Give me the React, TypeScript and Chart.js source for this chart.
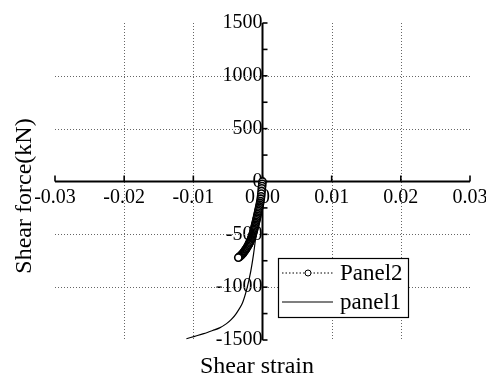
import React, { useEffect, useRef } from "react";
import { Chart, registerables } from "chart.js";

Chart.register(...registerables);

const panel2Strain = [0, -0.00003, -0.00006, -0.0001, -0.00013, -0.00016, -0.0002, -0.00025, -0.0003, -0.00035, -0.0004, -0.00045, -0.0005, -0.00055, -0.0006, -0.00065, -0.0007, -0.00075, -0.0008, -0.00085, -0.0009, -0.00095, -0.001, -0.00105, -0.0011, -0.00115, -0.0012, -0.00125, -0.0013, -0.00135, -0.0014, -0.00145, -0.0015, -0.00155, -0.0016, -0.00165, -0.0017, -0.00175, -0.0018, -0.00185, -0.0019, -0.00195, -0.002, -0.0021, -0.0022, -0.0023, -0.0024, -0.0025, -0.0026, -0.0027, -0.0028, -0.0029, -0.003, -0.0031, -0.0032, -0.0033, -0.0034, -0.0035];
const panel2Force = [0, -22, -44, -65, -90, -115, -140, -163, -185, -203, -220, -236, -250, -265, -280, -295, -310, -325, -340, -354, -368, -382, -395, -409, -422, -435, -448, -461, -474, -486, -498, -508, -518, -527, -536, -545, -553, -561, -568, -576, -583, -590, -596, -608, -619, -630, -640, -650, -659, -668, -677, -685, -692, -699, -705, -711, -716, -720];

const panel1Strain = [0, -0.0002, -0.0004, -0.0007, -0.001, -0.0013, -0.0017, -0.0022, -0.0029, -0.0038, -0.0045, -0.0052, -0.0062, -0.0072, -0.0085, -0.0098, -0.011];
const panel1Force = [0, -100, -250, -400, -540, -690, -850, -1000, -1150, -1250, -1305, -1345, -1385, -1410, -1440, -1465, -1488];

const xTicks = [-0.03, -0.02, -0.01, 0, 0.01, 0.02, 0.03];
const xGridValues = [-0.02, -0.01, 0.01, 0.02];
const yTicks = [-1500, -1250, -1000, -750, -500, -250, 0, 250, 500, 750, 1000, 1250, 1500];
const yGridValues = [-1000, -500, 500, 1000];
const legendLabels = ["Panel2", "panel1"];

const FONT = "'Liberation Serif', 'Times New Roman', serif";

export default function App() {
  const ref = useRef<HTMLCanvasElement | null>(null);

  useEffect(() => {
    document.body.style.margin = "0";
    const canvas = ref.current;
    if (!canvas) return;

    const axesPlugin = {
      id: "crossAxes",
      beforeDatasetsDraw(chart: any) {
        const ctx = chart.ctx;
        const xs = chart.scales.x;
        const ys = chart.scales.y;
        const x0 = xs.getPixelForValue(0);
        const y0 = ys.getPixelForValue(0);
        const area = chart.chartArea;
        ctx.save();
        ctx.strokeStyle = "#666";
        ctx.lineWidth = 1;
        ctx.setLineDash([1, 2]);
        xGridValues.forEach((v) => {
          const px = Math.round(xs.getPixelForValue(v)) + 0.5;
          ctx.beginPath();
          ctx.moveTo(px, area.top);
          ctx.lineTo(px, area.bottom);
          ctx.stroke();
        });
        yGridValues.forEach((v) => {
          const py = Math.round(ys.getPixelForValue(v)) + 0.5;
          ctx.beginPath();
          ctx.moveTo(area.left, py);
          ctx.lineTo(area.right, py);
          ctx.stroke();
        });
        ctx.setLineDash([]);
        ctx.strokeStyle = "#000";
        ctx.lineWidth = 2;
        ctx.beginPath();
        ctx.moveTo(xs.getPixelForValue(xTicks[0]), y0);
        ctx.lineTo(xs.getPixelForValue(xTicks[xTicks.length - 1]), y0);
        ctx.stroke();
        ctx.beginPath();
        ctx.moveTo(x0, ys.getPixelForValue(yTicks[0]));
        ctx.lineTo(x0, ys.getPixelForValue(yTicks[yTicks.length - 1]));
        ctx.stroke();
        ctx.lineWidth = 1.6;
        xTicks.forEach((v) => {
          const px = xs.getPixelForValue(v);
          ctx.beginPath();
          ctx.moveTo(px, y0);
          ctx.lineTo(px, y0 - 6);
          ctx.stroke();
        });
        yTicks.forEach((v) => {
          const py = ys.getPixelForValue(v);
          ctx.beginPath();
          ctx.moveTo(x0, py);
          ctx.lineTo(x0 + 5, py);
          ctx.stroke();
        });
        ctx.restore();
      },
      afterDraw(chart: any) {
        const ctx = chart.ctx;
        ctx.save();
        ctx.fillStyle = "#000";
        ctx.font = `24px ${FONT}`;
        ctx.textAlign = "center";
        ctx.textBaseline = "middle";
        ctx.fillText("Shear strain", 257, 367);
        ctx.translate(25, 196);
        ctx.rotate(-Math.PI / 2);
        ctx.fillText("Shear force(kN)", 0, 0);
        ctx.restore();

        const bx = 278, by = 258, bw = 130, bh = 59;
        ctx.save();
        ctx.fillStyle = "#fff";
        ctx.fillRect(bx, by, bw, bh);
        ctx.strokeStyle = "#000";
        ctx.lineWidth = 1.2;
        ctx.strokeRect(bx + 0.5, by + 0.5, bw, bh);
        const rows = [by + 15, by + 44];
        ctx.lineWidth = 1;
        ctx.setLineDash([1.5, 2]);
        ctx.beginPath();
        ctx.moveTo(282, rows[0]);
        ctx.lineTo(333, rows[0]);
        ctx.stroke();
        ctx.setLineDash([]);
        ctx.fillStyle = "#fff";
        ctx.beginPath();
        ctx.arc(308, rows[0], 3, 0, Math.PI * 2);
        ctx.fill();
        ctx.stroke();
        ctx.lineWidth = 1.2;
        ctx.beginPath();
        ctx.moveTo(282, rows[1]);
        ctx.lineTo(333, rows[1]);
        ctx.stroke();
        ctx.fillStyle = "#000";
        ctx.font = `23px ${FONT}`;
        ctx.textAlign = "left";
        ctx.textBaseline = "middle";
        ctx.fillText(legendLabels[0], 340, rows[0] + 1);
        ctx.fillText(legendLabels[1], 340, rows[1] + 1);
        ctx.restore();
      },
    };

    const zeroPad = (s: any) => {
      s.paddingLeft = 0;
      s.paddingRight = 0;
      s.paddingTop = 0;
      s.paddingBottom = 0;
    };

    const chart = new Chart(canvas, {
      type: "scatter",
      data: {
        datasets: [
          {
            label: legendLabels[0],
            data: panel2Strain.map((x, i) => ({ x, y: panel2Force[i] })),
            showLine: true,
            borderColor: "#000",
            borderWidth: 1,
            borderDash: [1.5, 2],
            pointRadius: 3.6,
            pointBorderWidth: 1.6,
            pointBackgroundColor: "#fff",
            pointBorderColor: "#000",
          },
          {
            label: legendLabels[1],
            data: panel1Strain.map((x, i) => ({ x, y: panel1Force[i] })),
            showLine: true,
            borderColor: "#000",
            borderWidth: 1.2,
            pointRadius: 0,
            tension: 0.3,
          },
        ],
      },
      options: {
        animation: false,
        responsive: true,
        maintainAspectRatio: false,
        layout: { padding: { left: 55, right: 16, top: 23, bottom: 38 } },
        plugins: { legend: { display: false }, tooltip: { enabled: false } },
        scales: {
          x: {
            type: "linear",
            position: { y: 0 } as any,
            min: -0.03,
            max: 0.03,
            grid: { display: false, drawTicks: false },
            border: { display: false },
            afterBuildTicks: (s: any) => {
              s.ticks = xTicks.map((v) => ({ value: v }));
            },
            afterFit: zeroPad,
            ticks: {
              color: "#000",
              font: { family: FONT, size: 20 },
              padding: 4,
              maxRotation: 0,
              autoSkip: false,
              callback: (v: any) => Number(v).toFixed(2),
            },
          },
          y: {
            type: "linear",
            position: { x: 0 } as any,
            min: -1500,
            max: 1500,
            grid: { display: false, drawTicks: false },
            border: { display: false },
            afterBuildTicks: (s: any) => {
              s.ticks = yTicks.map((v) => ({ value: v }));
            },
            afterFit: zeroPad,
            ticks: {
              color: "#000",
              font: { family: FONT, size: 20 },
              padding: 6,
              autoSkip: false,
              callback: (v: any) => (Number(v) % 500 === 0 ? String(v) : ""),
            },
          },
        },
      },
      plugins: [axesPlugin],
    });
    return () => chart.destroy();
  }, []);

  return (
    <div style={{ width: 486, height: 378, position: "relative", background: "#fff" }}>
      <canvas ref={ref} />
    </div>
  );
}
